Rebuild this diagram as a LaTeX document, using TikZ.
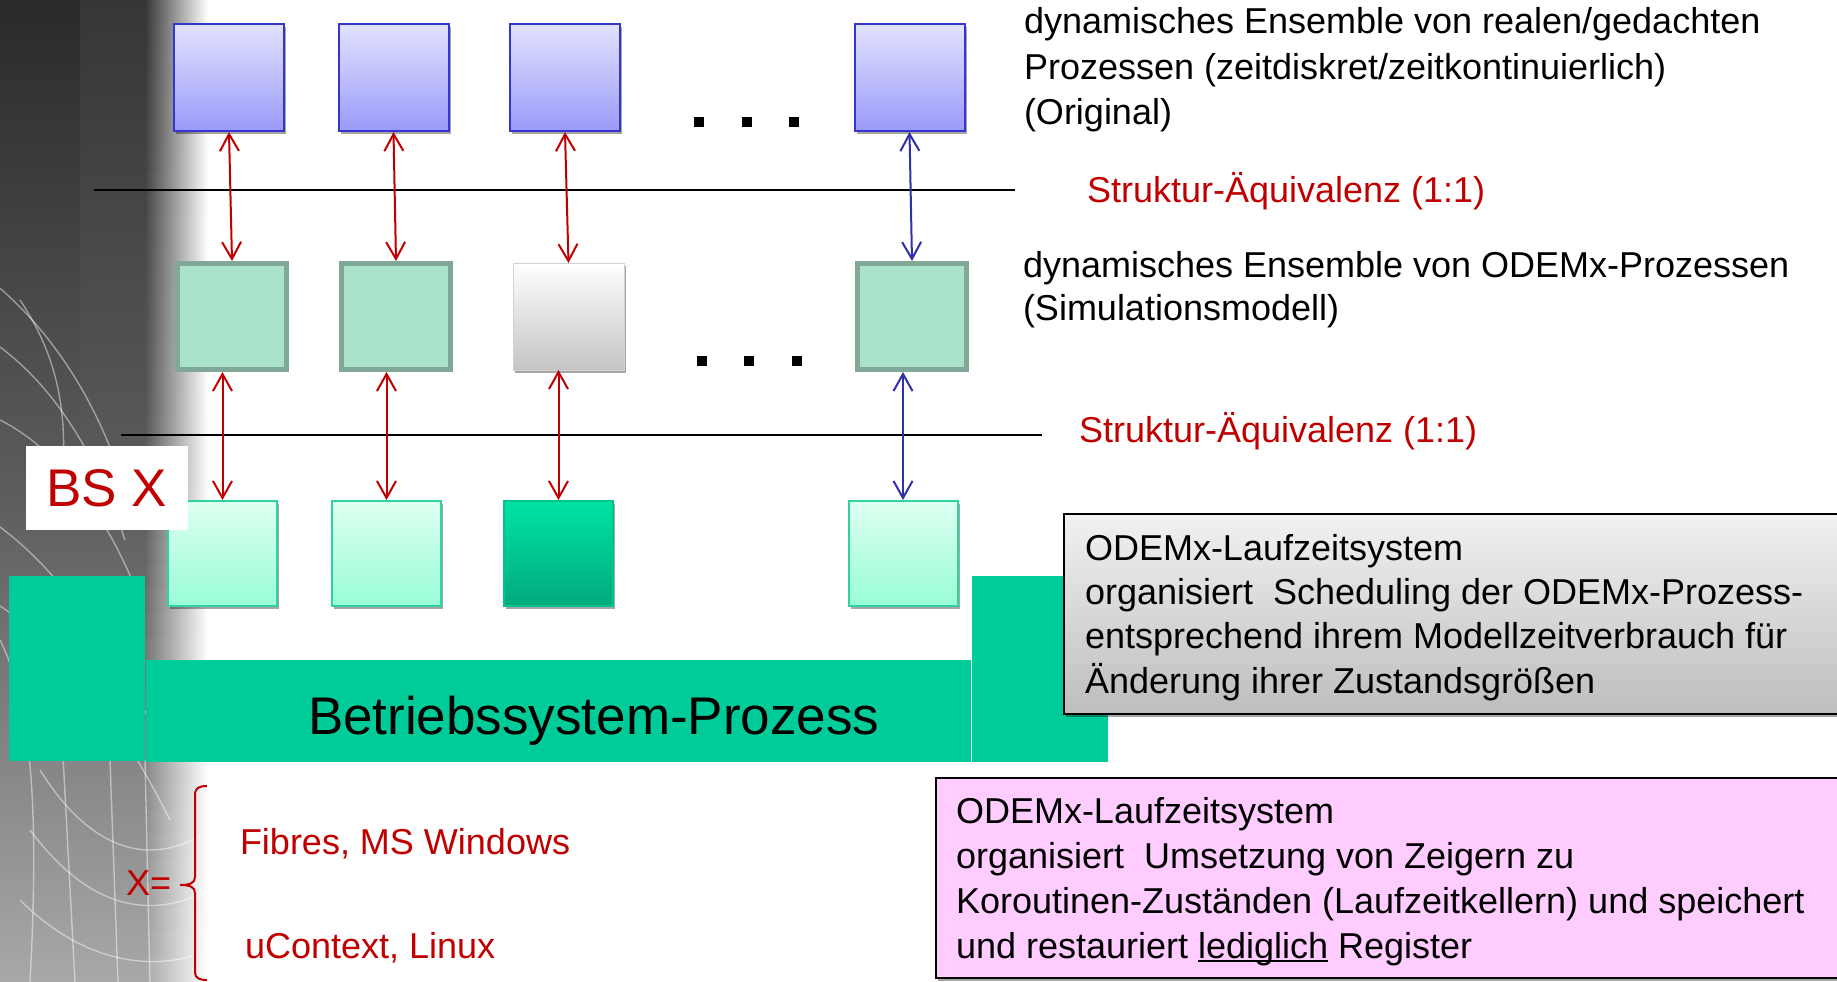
\documentclass[tikz,border=0pt]{standalone}
\usepackage{fontspec}
\setmainfont{Liberation Sans}
\usetikzlibrary{arrows.meta,shadows,calc}
\definecolor{redc}{HTML}{C00000}
\definecolor{arrblue}{HTML}{3030A8}
\definecolor{bluetop}{HTML}{E2E2FE}
\definecolor{bluebot}{HTML}{9A9AF9}
\definecolor{blueborder}{HTML}{3636CF}
\definecolor{greenfill}{HTML}{ABE2CB}
\definecolor{greenborder}{HTML}{7FA996}
\definecolor{minttop}{HTML}{DDFFF1}
\definecolor{mintbot}{HTML}{98FDD6}
\definecolor{mintborder}{HTML}{2FD3A2}
\definecolor{dmtop}{HTML}{00E3A4}
\definecolor{dmbot}{HTML}{00AA7C}
\definecolor{dmborder}{HTML}{00C48E}
\definecolor{osgreen}{HTML}{00CC99}
\definecolor{grtop}{HTML}{F2F2F2}
\definecolor{grbot}{HTML}{BDBDBD}
\definecolor{pinkc}{HTML}{FFCCFF}
\definecolor{bevelbot}{HTML}{C4C4C4}
\definecolor{bgtop}{HTML}{363636}
\definecolor{bgmid}{HTML}{5C5C5C}
\definecolor{bgbot}{HTML}{A8A8A8}
\definecolor{bgdark}{HTML}{2A2A2A}
\newcommand\ulin[1]{\setbox0=\hbox{#1}\rlap{\rule[-4pt]{\wd0}{2pt}}\box0\relax}
\begin{document}
\begin{tikzpicture}[x=1pt,y=-1pt,
  every node/.style={inner sep=0pt, outer sep=0pt},
  txt/.style={anchor=base west, font=\fontsize{36}{44}\selectfont},
  redtxt/.style={txt, text=redc},
  bigtxt/.style={anchor=base west, font=\fontsize{53}{64}\selectfont},
  shad/.style={drop shadow={shadow xshift=2pt, shadow yshift=-3pt, opacity=0.35, fill=black}},
  bluebox/.style={draw=blueborder, line width=2pt, top color=bluetop, bottom color=bluebot, minimum width=110pt, minimum height=107pt, outer sep=1pt, shad},
  greenbox/.style={draw=greenborder, line width=5pt, fill=greenfill, minimum width=109pt, minimum height=106pt, outer sep=2.5pt},
  greybevel/.style={draw=gray!35, line width=0.6pt, top color=white, bottom color=bevelbot, minimum width=111pt, minimum height=107pt, shad},
  mintbox/.style={draw=mintborder, line width=2pt, top color=minttop, bottom color=mintbot, minimum width=109pt, minimum height=105pt, outer sep=1pt, shad},
  darkmint/.style={mintbox, draw=dmborder, top color=dmtop, bottom color=dmbot},
  redarr/.style={draw=redc, line width=2pt, {Straight Barb[length=17pt,width=19pt]}-{Straight Barb[length=17pt,width=19pt]}},
  bluearr/.style={redarr, draw=arrblue},
  dotsq/.style={fill=black, minimum size=10pt},
  sepline/.style={line width=2pt, draw=black},
  texture/.style={draw=white, opacity=0.45, line width=1.4pt}
]
\useasboundingbox (0,0) rectangle (1837,982);
\fill[white] (0,0) rectangle (1837,982);
% background photo texture on the left
\fill[top color=bgtop, bottom color=bgbot, middle color=bgmid] (0,0) rectangle (145.5,982);
\foreach \i in {0,...,39}{
  \pgfmathsetmacro\ya{\i*24.55}
  \pgfmathsetmacro\yb{\ya+25.5}
  \pgfmathsetmacro\pp{(\i+0.5)/40}
  \pgfmathsetmacro\q{\pp<0.5 ? 200*\pp : 200*\pp-100}
  \ifdim\pp pt<0.5pt \colorlet{stc}{bgmid!\q!bgtop}\else\colorlet{stc}{bgbot!\q!bgmid}\fi
  \fill[left color=stc, right color=white] (145,\ya) rectangle (208,\yb);
}
\fill[top color=bgdark, bottom color=bgmid!90!bgtop] (0,0) rectangle (80,450);
\begin{scope}
\clip (0,0) rectangle (205,982);
\draw[texture] (-10,280) .. controls (40,320) and (85,380) .. (115,460);
\draw[texture] (-10,340) .. controls (50,380) and (95,450) .. (125,540);
\draw[texture] (0,420) .. controls (60,450) and (110,520) .. (140,600);
\draw[texture] (-10,520) .. controls (50,560) and (110,640) .. (160,740);
\draw[texture] (-10,600) .. controls (60,640) and (120,720) .. (170,820);
\draw[texture] (40,770) .. controls (90,850) and (150,870) .. (210,830);
\draw[texture] (30,830) .. controls (90,910) and (150,920) .. (210,890);
\draw[texture] (20,900) .. controls (80,960) and (150,975) .. (210,950);
\draw[texture] (0,640) .. controls (30,700) and (40,800) .. (30,982);
\draw[texture] (60,700) -- (75,982);
\draw[texture] (110,760) -- (118,982);
\draw[texture] (145,760) -- (150,982);
\draw[texture] (20,300) .. controls (60,360) and (70,420) .. (60,500);
\end{scope}
% separator lines
\draw[sepline] (94,190) -- (1015,190);
\draw[sepline] (121,435) -- (1042,435);
% row 1
\node[bluebox] (b1) at (229,77.5) {};
\node[bluebox] (b2) at (393.5,77.5) {};
\node[bluebox] (b3) at (565,77.5) {};
\node[bluebox] (b4) at (909.5,77.5) {};
% row 2
\node[greenbox] (g1) at (232,316.5) {};
\node[greenbox] (g2) at (396,316.5) {};
\node[greybevel] (g3) at (568.5,316.5) {};
\node[greenbox] (g4) at (912,316.5) {};
% dots
\node[dotsq] (d1) at (699,122) {};
\node[dotsq] (d2) at (747,122) {};
\node[dotsq] (d3) at (794,122) {};
\node[dotsq] (d4) at (702,361) {};
\node[dotsq] (d5) at (749,361) {};
\node[dotsq] (d6) at (797,361) {};
% big OS process shape
\fill[osgreen] (9,576) rectangle (145,761);
\fill[osgreen] (146,660) rectangle (971,762);
\fill[osgreen] (972,576) rectangle (1108,762);
\node[bigtxt] (bp) at (308,734) {Betriebssystem-Prozess};
% row 3
\node[mintbox] (l1) at (222.5,553.5) {};
\node[mintbox] (l2) at (386.5,553.5) {};
\node[darkmint] (l3) at (558.5,553.5) {};
\node[mintbox] (l4) at (903,553.5) {};
\node[fill=white, minimum width=162pt, minimum height=84pt, text=redc, font=\fontsize{53}{64}\selectfont] (bsx) at (107,488) {BS X};
% arrows
\draw[redarr] (b1.south) -- (g1.north);
\draw[redarr] (b2.south) -- (g2.north);
\draw[redarr] (b3.south) -- (g3.north);
\draw[bluearr] (b4.south) -- (g4.north);
\draw[redarr] (l1.north |- g1.south) -- (l1.north);
\draw[redarr] (l2.north |- g2.south) -- (l2.north);
\draw[redarr] (l3.north |- g3.south) -- (l3.north);
\draw[bluearr] (l4.north |- g4.south) -- (l4.north);
% right side texts
\node[txt] (t1a) at (1024,34) {dynamisches Ensemble von realen/gedachten};
\node[txt] (t1b) at (1024,79) {Prozessen (zeitdiskret/zeitkontinuierlich)};
\node[txt] (t1c) at (1024,124) {(Original)};
\node[redtxt] (s1) at (1087,202) {Struktur-Äquivalenz (1:1)};
\node[txt] (t2a) at (1023,277) {dynamisches Ensemble von ODEMx-Prozessen};
\node[txt] (t2b) at (1023,320) {(Simulationsmodell)};
\node[redtxt] (s2) at (1079,442) {Struktur-Äquivalenz (1:1)};
% grey box
\node[draw=black, line width=1.5pt, top color=grtop, bottom color=grbot, minimum width=790pt, minimum height=200pt, anchor=north west, shad] (gbox) at (1064,514) {};
\node[txt] (ga) at (1085,560) {ODEMx-Laufzeitsystem};
\node[txt] (gb) at (1085,604) {organisiert\ \ Scheduling der ODEMx-Prozess-};
\node[txt] (gc) at (1085,648) {entsprechend ihrem Modellzeitverbrauch für};
\node[txt] (gd) at (1085,693) {Änderung ihrer Zustandsgrößen};
% pink box
\node[draw=black, line width=1.5pt, fill=pinkc, minimum width=918pt, minimum height=200pt, anchor=north west, shad] (pbox) at (936,778) {};
\node[txt] (pa) at (956,823) {ODEMx-Laufzeitsystem};
\node[txt] (pb) at (956,868) {organisiert\ \ Umsetzung von Zeigern zu};
\node[txt] (pc) at (956,913) {Koroutinen-Zuständen (Laufzeitkellern) und speichert};
\node[txt] (pd) at (956,958) {und restauriert \ulin{lediglich} Register};
% X = brace
\node[redtxt] (xe) at (126,895) {X=};
\node[redtxt] (xa) at (240,854) {Fibres, MS Windows};
\node[redtxt] (xb) at (245,958) {uContext, Linux};
\draw[redc, line width=2pt] (207,786) .. controls (199,786) and (195,788) .. (195,795) -- (195,877) .. controls (195,883) and (190,885) .. (180,885) .. controls (190,885) and (195,887) .. (195,893) -- (195,972) .. controls (195,978) and (199,980) .. (207,980);
\end{tikzpicture}
\end{document}
